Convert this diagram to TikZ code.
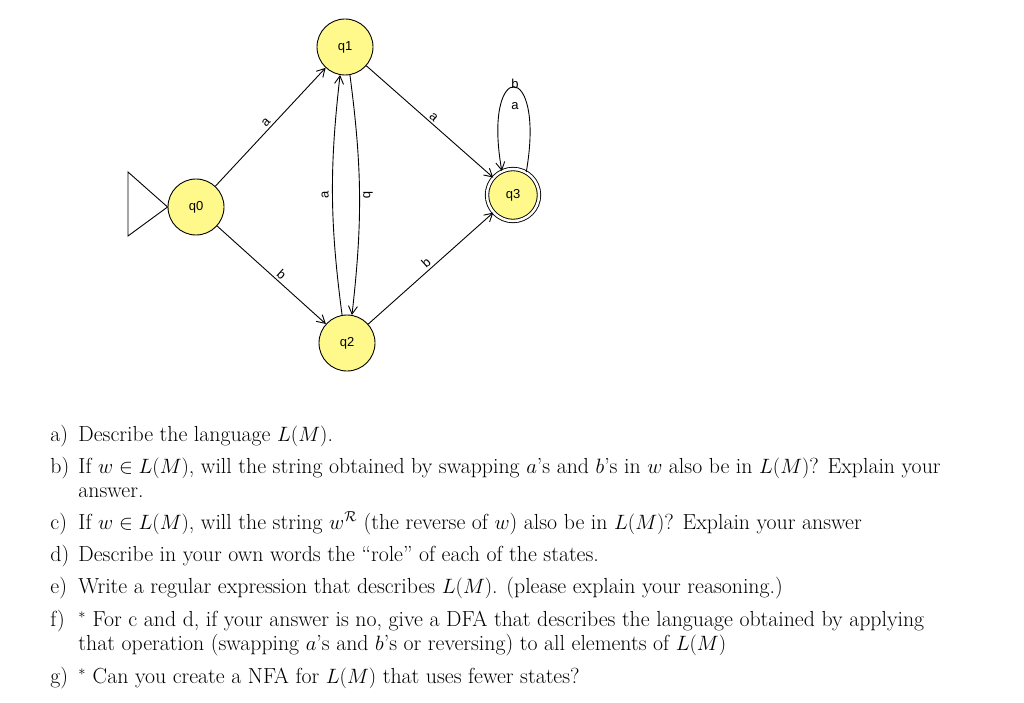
\documentclass[tikz,border=0pt]{standalone}
\usepackage{fontspec}
\newfontfamily\dsans{Liberation Sans}
\usetikzlibrary{arrows.meta}
\begin{document}
\begin{tikzpicture}[x=1pt,y=-1pt,line width=0.9pt,
  st/.style={circle,draw,fill=yellow!45!white,minimum size=56pt,inner sep=0pt,font=\dsans\fontsize{13}{15}\selectfont},
  acc/.style={st,double,double distance=2.5pt,minimum size=52pt},
  tr/.style={-{Straight Barb[length=8pt,width=9pt]}},
  lb/.style={font=\dsans\fontsize{13}{15}\selectfont,sloped,above,inner sep=2pt},
  tx/.style={anchor=base west,inner sep=0pt,font=\fontsize{21.8}{24}\selectfont}]
\useasboundingbox (0,0) rectangle (1024,703);
\node[st] (q0) at (196,207) {q0};
\node[st] (q1) at (345,47) {q1};
\node[st] (q2) at (347,343) {q2};
\node[acc] (q3) at (513,195) {q3};
\coordinate (s1) at (128,172);
\coordinate (s2) at (128,236);
\draw (q0.west) -- (s1) -- (s2) -- cycle;
\draw[tr] (q0) -- node[lb]{a} (q1);
\draw[tr] (q0) -- node[lb,pos=0.55]{b} (q2);
\draw[tr] (q1) -- node[lb]{a} (q3);
\draw[tr] (q2) -- node[lb]{b} (q3);
\draw[tr] (q2.100) to[bend left=7] node[font=\dsans\fontsize{13}{15}\selectfont,rotate=90,anchor=south]{a} (q1.260);
\draw[tr] (q1.280) to[bend left=7] node[font=\dsans\fontsize{13}{15}\selectfont,rotate=-90,anchor=south]{b} (q2.80);
\draw[tr] (q3.60) to[out=80,in=100,looseness=12] (q3.115);
\node[font=\dsans\fontsize{13}{15}\selectfont] (lb1) at (515,84) {b};
\node[font=\dsans\fontsize{13}{15}\selectfont] (la1) at (515,106) {a};
\foreach \n/\y/\l in {a/441/a), b/473/b), c/529/c), d/561/d), e/593/e), f/626/f), g/683/g)}
  \node[tx] (m\n) at (50,\y) {\l};
\node[tx] (l1) at (78,441) {Describe the language $L(M)$.};
\node[tx] (l2) at (78,473) {If $w\in L(M)$, will the string obtained by swapping $a$'s and $b$'s in $w$ also be in $L(M)$? Explain your};
\node[tx] (l2b) at (78,497) {answer.};
\node[tx] (l3) at (78,529) {If $w\in L(M)$, will the string $w^{\mathcal{R}}$ (the reverse of $w$) also be in $L(M)$? Explain your answer};
\node[tx] (l4) at (78,561) {Describe in your own words the ``role'' of each of the states.};
\node[tx] (l5) at (78,593) {Write a regular expression that describes $L(M)$. (please explain your reasoning.)};
\node[tx] (l6) at (78,626) {$^*$ For c and d, if your answer is no, give a DFA that describes the language obtained by applying};
\node[tx] (l6b) at (78,650) {that operation (swapping $a$'s and $b$'s or reversing) to all elements of $L(M)$};
\node[tx] (l7) at (78,683) {$^*$ Can you create a NFA for $L(M)$ that uses fewer states?};
\end{tikzpicture}
\end{document}
